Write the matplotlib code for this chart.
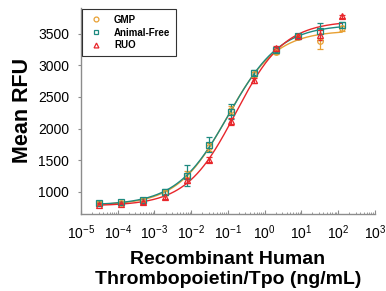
import numpy as np
import matplotlib
matplotlib.use("Agg")
import matplotlib.pyplot as plt
from matplotlib.ticker import LogLocator, FixedLocator
from matplotlib.lines import Line2D

plt.rcParams['font.family'] = ['Liberation Sans', 'DejaVu Sans']

conc = [3.05e-5, 1.22e-4, 4.88e-4, 1.95e-3, 7.81e-3, 0.03125, 0.125, 0.5, 2, 8, 32, 128]

gmp = [815, 825, 865, 985, 1265, 1710, 2290, 2860, 3205, 3455, 3380, 3590]
gmp_err = [25, 25, 30, 40, 70, 60, 60, 40, 30, 25, 120, 40]
af = [825, 835, 875, 1000, 1255, 1745, 2270, 2880, 3236, 3457, 3537, 3642]
af_err = [25, 25, 30, 40, 165, 120, 120, 40, 30, 25, 130, 50]
ruo = [795, 805, 835, 920, 1180, 1507, 2113, 2761, 3273, 3470, 3484, 3774]
ruo_err = [20, 20, 25, 35, 40, 40, 50, 40, 30, 25, 80, 30]

series_names = ['GMP', 'Animal-Free', 'RUO']
colors = ['#E8A033', '#1E8A80', '#E8262B']
markers = ['o', 's', '^']


def f4pl(p, x):
    bottom, top, logec, hill = p
    return bottom + (top - bottom) / (1 + 10 ** ((logec - np.log10(x)) * hill))


def fit(x, y):
    x = np.asarray(x, float); y = np.asarray(y, float)
    p = np.array([y.min(), y.max(), -1.0, 0.8])
    lam = 1e-3
    for _ in range(200):
        r = y - f4pl(p, x)
        J = np.zeros((len(x), 4))
        for j in range(4):
            dp = np.zeros(4); dp[j] = 1e-6 * max(1, abs(p[j]))
            J[:, j] = (f4pl(p + dp, x) - f4pl(p, x)) / dp[j]
        A = J.T @ J
        g = J.T @ r
        step = np.linalg.solve(A + lam * np.diag(np.diag(A)), g)
        pn = p + step
        if np.sum((y - f4pl(pn, x)) ** 2) < np.sum(r ** 2):
            p = pn; lam *= 0.3
        else:
            lam *= 10
    return p


fig = plt.figure(figsize=(3.86, 2.91), dpi=100)
ax = fig.add_axes([0.21, 0.265, 0.761, 0.708])

xs = np.logspace(np.log10(conc[0]), np.log10(conc[-1]), 300)
handles = []
for name, y, e, c, m in zip(series_names, [gmp, af, ruo], [gmp_err, af_err, ruo_err], colors, markers):
    p = fit(conc, y)
    ax.plot(xs, f4pl(p, xs), color=c, lw=1.0, zorder=2)
    ax.errorbar(conc, y, yerr=e, fmt=m, mfc='none', mec=c, ecolor=c, ms=4, mew=0.9,
                elinewidth=0.9, capsize=2.5, capthick=0.9, zorder=3, linestyle='none')
    handles.append(Line2D([], [], marker=m, mfc='none', mec=c, ms=3.5, mew=0.9,
                          linestyle='none', label=name))

ax.set_xscale('log')
ax.set_xlim(1e-5, 1e3)
ax.set_ylim(650, 3910)
ax.xaxis.set_major_locator(LogLocator(base=10, numticks=20))
ax.xaxis.set_minor_locator(LogLocator(base=10, subs=np.arange(2, 10), numticks=100))
ax.yaxis.set_major_locator(FixedLocator([1000, 1500, 2000, 2500, 3000, 3500]))
ax.yaxis.set_minor_locator(FixedLocator([]))

for s in ['top', 'right']:
    ax.spines[s].set_visible(False)
for s in ['left', 'bottom']:
    ax.spines[s].set_color('#8c8c8c')
    ax.spines[s].set_linewidth(1.0)

ax.tick_params(axis='y', which='major', direction='out', length=2.5, color='#8c8c8c',
               labelsize=10, pad=6)
ax.tick_params(axis='x', which='major', direction='in', length=3, color='#8c8c8c',
               labelsize=10, pad=7)
ax.tick_params(axis='x', which='minor', direction='in', length=1.8, color='#8c8c8c')

ax.set_ylabel('Mean RFU', fontsize=15.5, fontweight='bold', labelpad=4)
ax.set_xlabel('Recombinant Human\nThrombopoietin/Tpo (ng/mL)', fontsize=14,
              fontweight='bold', labelpad=6, linespacing=1.3)

leg = ax.legend(handles=handles, loc='upper left', bbox_to_anchor=(0.0, 1.0),
                prop={'weight': 'bold', 'size': 7},
                frameon=True, fancybox=False, edgecolor='black', handlelength=1.6,
                borderpad=0.6, labelspacing=0.3, handletextpad=1.1, borderaxespad=0.1)
leg.get_frame().set_linewidth(0.8)

fig.savefig('out.png', dpi=100)
